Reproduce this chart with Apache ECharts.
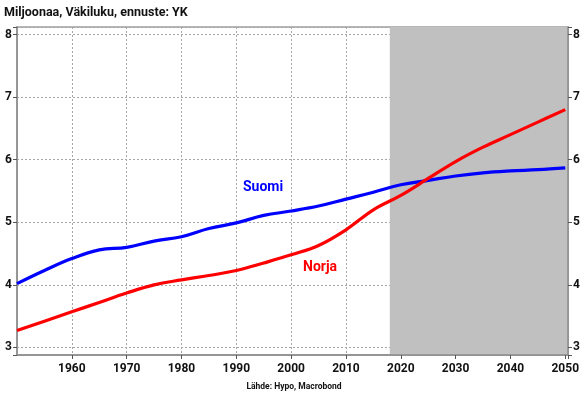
<!DOCTYPE html>
<html>
<head>
<meta charset="utf-8">
<script src="https://cdn.jsdelivr.net/npm/echarts@6/dist/echarts.min.js"></script>
<style>
html,body{margin:0;padding:0;background:#fff}
#main{width:588px;height:398px}
</style>
</head>
<body>
<div id="main"></div>
<script>
// vuodet ja väkiluku (miljoonaa)
var years = [1950,1955,1960,1965,1970,1975,1980,1985,1990,1995,2000,2005,2010,2015,2020,2025,2030,2035,2040,2045,2050];
var suomi = [4.02,4.23,4.42,4.56,4.60,4.70,4.77,4.90,4.99,5.11,5.18,5.26,5.37,5.48,5.60,5.67,5.74,5.79,5.82,5.84,5.87];
var norja = [3.27,3.42,3.57,3.72,3.87,4.00,4.08,4.15,4.23,4.35,4.48,4.63,4.88,5.20,5.43,5.70,5.97,6.20,6.40,6.60,6.80];
var ennusteAlku = 2018;
var yTicks = [3,4,5,6,7,8];

var font = 'Roboto, "Open Sans", sans-serif';
var myChart = echarts.init(document.getElementById('main'));

function pairs(xs, ys){
    var out = [];
    for(var i=0;i<xs.length;i++){
        out.push([xs[i], ys[i]]);
    }
    return out;
}

var yLabel = function(v){
    return yTicks.indexOf(Math.round(v*1000)/1000) > -1 ? v : '';
};

var yCommon = {
    type:'value',
    min:2.88,
    max:8.12,
    splitNumber:5,
    z:1,
    axisLine:{show:true,lineStyle:{color:'#8c8c8c',width:1.5}},
    axisTick:{show:true,length:4,lineStyle:{color:'#555'}},
    axisLabel:{color:'#111',fontWeight:'bold',fontSize:12,fontFamily:font,formatter:yLabel,margin:5},
    splitLine:{show:true,lineStyle:{color:'#a6a6a6',type:[2,2],width:1}}
};

var option = {
    backgroundColor:'#fff',
    animation:false,
    grid:{left:17,right:20,top:27,bottom:43,show:true,borderColor:'#a0a0a0',borderWidth:1.5,backgroundColor:'transparent'},
    graphic:[
        {type:'text',left:4,top:6,style:{text:'Miljoonaa, Väkiluku, ennuste: YK',fontFamily:font,fontWeight:'bold',fontSize:12.5,fill:'#111'}},
        {type:'text',left:'center',top:382,style:{text:'Lähde: Hypo, Macrobond',fontFamily:font,fontWeight:'bold',fontSize:8.5,fill:'#111'}},
        {type:'text',left:243,top:180,z:10,style:{text:'Suomi',fontFamily:font,fontWeight:'bold',fontSize:14,fill:'#0000ff'}},
        {type:'text',left:303,top:260,z:10,style:{text:'Norja',fontFamily:font,fontWeight:'bold',fontSize:14,fill:'#ff0000'}}
    ],
    xAxis:{
        type:'value',
        min:1950,
        max:2050.5,
        interval:10,
        z:1,
        axisLine:{show:true,onZero:false,lineStyle:{color:'#8c8c8c',width:1.5}},
        axisTick:{show:true,length:4,lineStyle:{color:'#555'}},
        axisLabel:{
            color:'#111',fontWeight:'bold',fontSize:12,fontFamily:font,margin:8,
            showMinLabel:false,showMaxLabel:true,
            formatter:function(v){
                return (v % 10 === 0 && v > 1950) ? String(v) : '';
            }
        },
        splitLine:{show:true,lineStyle:{color:'#a6a6a6',type:[2,2],width:1}}
    },
    yAxis:[
        echarts.util.merge({position:'left'}, yCommon, true),
        echarts.util.merge({position:'right'}, yCommon, true)
    ],
    series:[
        {
            name:'ennuste',
            type:'line',
            data:[],
            z:0,
            silent:true,
            markArea:{
                silent:true,
                itemStyle:{color:'#c0c0c0'},
                data:[[{xAxis:ennusteAlku},{xAxis:2050.5}]]
            }
        },
        {
            name:'Suomi',
            type:'line',
            z:3,
            smooth:0.4,
            showSymbol:false,
            lineStyle:{color:'#0000ff',width:3.2},
            data:pairs(years, suomi)
        },
        {
            name:'Norja',
            type:'line',
            z:3,
            smooth:0.4,
            showSymbol:false,
            lineStyle:{color:'#ff0000',width:3.2},
            data:pairs(years, norja)
        }
    ]
};
myChart.setOption(option);
</script>
</body>
</html>
